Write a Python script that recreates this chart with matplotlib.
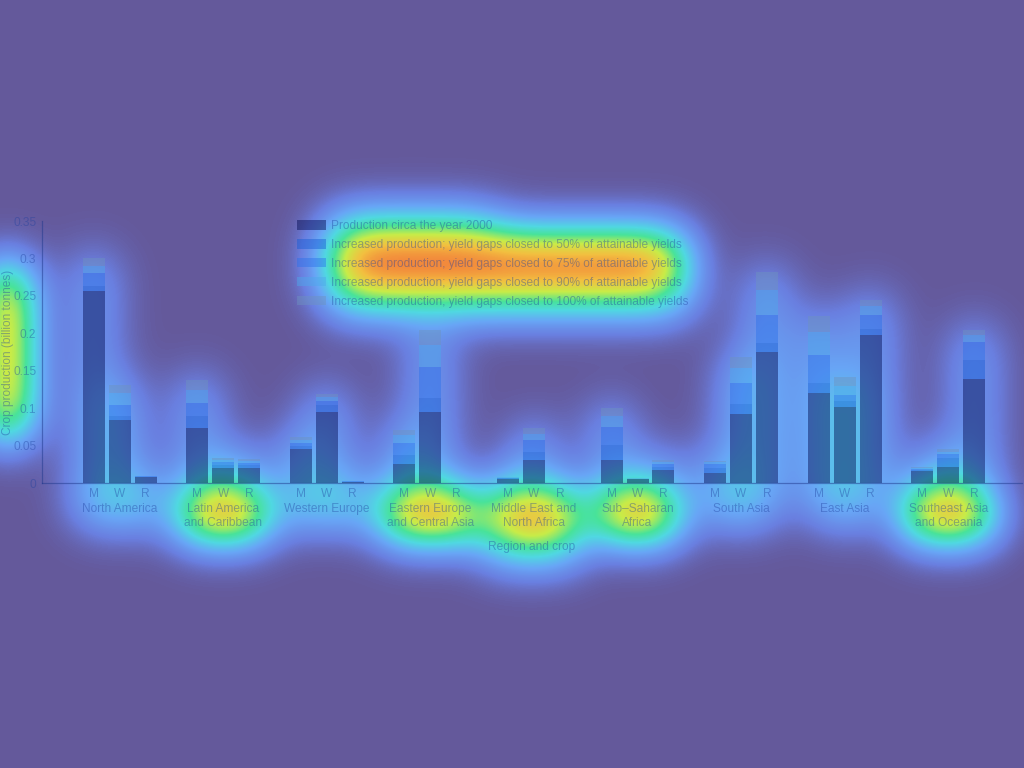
import numpy as np
import matplotlib
matplotlib.use("Agg")
import matplotlib.pyplot as plt
from matplotlib.colors import LinearSegmentedColormap

plt.rcParams['font.family'] = ['Liberation Sans', 'DejaVu Sans']

regions = ["North America", "Latin America\nand Caribbean", "Western Europe",
           "Eastern Europe\nand Central Asia", "Middle East and\nNorth Africa",
           "Sub\u2013Saharan\nAfrica", "South Asia", "East Asia",
           "Southeast Asia\nand Oceania"]
crops = ["M", "W", "R"]

series_names = ["Production circa the year 2000",
                "Increased production; yield gaps closed to 50% of attainable yields",
                "Increased production; yield gaps closed to 75% of attainable yields",
                "Increased production; yield gaps closed to 90% of attainable yields",
                "Increased production; yield gaps closed to 100% of attainable yields"]

# cumulative production (billion tonnes), bars in order region x (M, W, R)
prod_2000 = [0.257, 0.084, 0.008,  0.074, 0.020, 0.020,  0.046, 0.095, 0.002,
             0.026, 0.095, 0.000,  0.006, 0.031, 0.000,  0.031, 0.005, 0.017,
             0.014, 0.092, 0.175,  0.120, 0.102, 0.198,  0.016, 0.022, 0.139]
gap_50 = [0.263, 0.089, 0.008,  0.089, 0.024, 0.024,  0.050, 0.104, 0.002,
          0.037, 0.113, 0.000,  0.007, 0.042, 0.000,  0.051, 0.006, 0.021,
          0.020, 0.106, 0.187,  0.133, 0.110, 0.206,  0.018, 0.034, 0.164]
gap_75 = [0.280, 0.104, 0.009,  0.107, 0.028, 0.027,  0.054, 0.110, 0.003,
          0.053, 0.155, 0.000,  0.007, 0.057, 0.000,  0.075, 0.006, 0.025,
          0.025, 0.134, 0.224,  0.171, 0.118, 0.224,  0.019, 0.039, 0.189]
gap_90 = [0.290, 0.120, 0.009,  0.124, 0.031, 0.030,  0.058, 0.115, 0.003,
          0.064, 0.184, 0.000,  0.008, 0.066, 0.000,  0.089, 0.007, 0.028,
          0.028, 0.153, 0.258,  0.202, 0.130, 0.236,  0.020, 0.042, 0.198]
gap_100 = [0.300, 0.131, 0.009,  0.137, 0.034, 0.032,  0.061, 0.119, 0.003,
           0.071, 0.204, 0.000,  0.008, 0.073, 0.000,  0.100, 0.007, 0.031,
           0.030, 0.168, 0.282,  0.223, 0.141, 0.245,  0.021, 0.045, 0.204]

# attention weights for the overlay
legend_heat = [0.9, 1.4, 2.0, 1.4, 0.8]
region_heat = [0.9, 1.8, 0.9, 1.8, 1.6, 1.8, 0.8, 0.8, 1.8]
ylabel_heat = 3.3
xlabel_heat = 1.3
crop_heat = 1.3
bar_heat = 0.4

bar_colors = ['#00094E', '#155BD4', '#2B71EA', '#4DA9EA', '#6E93BE']
bar_alpha = 0.45
ink = (0.12, 0.25, 0.62, 0.40)
fs = 8.6

W, H = 1024, 768
fig = plt.figure(figsize=(W / 100, H / 100), dpi=100)
fig.patch.set_facecolor('#64599B')
ax = fig.add_axes([42 / W, 1 - 483 / H, 980 / W, 262 / H], zorder=1)
ax.patch.set_visible(False)

levels = [prod_2000, gap_50, gap_75, gap_90, gap_100]
n_reg = len(regions)
xpos = np.array([g * 4 + j for g in range(n_reg) for j in range(3)], dtype=float)
bars = []
prev = np.zeros(len(xpos))
for lev, name, col in zip(levels, series_names, bar_colors):
    lev = np.array(lev)
    b = ax.bar(xpos, lev - prev, bottom=prev, width=0.85, color=col,
               alpha=bar_alpha, linewidth=0, label=name)
    bars.append(b)
    prev = lev

ax.set_xlim(-2, 35.85)
ax.set_ylim(0, 0.35)
ax.set_yticks([0, 0.05, 0.1, 0.15, 0.2, 0.25, 0.3, 0.35])
ax.set_yticklabels(['0', '0.05', '0.1', '0.15', '0.2', '0.25', '0.3', '0.35'])
ax.set_xticks(xpos)
ax.set_xticklabels(crops * n_reg)
ax.tick_params(axis='both', length=0, labelsize=fs, labelcolor=ink)
ax.tick_params(axis='x', pad=3.5)
ax.tick_params(axis='y', pad=4)
for s in ['top', 'right']:
    ax.spines[s].set_visible(False)
for s in ['left', 'bottom']:
    ax.spines[s].set_color((0.12, 0.22, 0.55, 0.5))
    ax.spines[s].set_linewidth(0.9)

region_texts = []
for g, name in enumerate(regions):
    t = ax.text(g * 4 + 1, -20 / 262, name, transform=ax.get_xaxis_transform(),
                ha='center', va='top', fontsize=fs, color=ink, linespacing=1.2)
    region_texts.append(t)

ax.set_ylabel('Crop production (billion tonnes)', fontsize=fs, color=ink)
ax.yaxis.set_label_coords(-0.029, 0.5)
ax.set_xlabel('Region and crop', fontsize=fs, color=ink)
ax.xaxis.set_label_coords(0.5, -58 / 262)

leg = ax.legend(loc='upper left', bbox_to_anchor=(297 / W, 1 - 220 / H),
                bbox_transform=fig.transFigure, frameon=False, fontsize=fs,
                handlelength=2.4, handleheight=0.85, handletextpad=0.45,
                labelspacing=0.58, borderpad=0, borderaxespad=0)
for t in leg.get_texts():
    t.set_color(ink)

# build the attention overlay from the drawn elements
fig.canvas.draw()
rend = fig.canvas.get_renderer()
pad = 160
heat = np.zeros((H + 2 * pad, W + 2 * pad))


def add(artist, w):
    bb = artist.get_window_extent(rend)
    x0, x1 = int(bb.x0) + pad, int(np.ceil(bb.x1)) + pad
    y0, y1 = int(bb.y0) + pad, int(np.ceil(bb.y1)) + pad
    heat[y0:y1, x0:x1] += w


for t, w in zip(leg.get_texts(), legend_heat):
    add(t, w)
for t, w in zip(region_texts, region_heat):
    add(t, w)
for t in ax.get_xticklabels():
    add(t, crop_heat)
add(ax.yaxis.label, ylabel_heat)
add(ax.xaxis.label, xlabel_heat)
for b in bars:
    for p in b.patches:
        add(p, bar_heat)

sigma = 24
ky = np.fft.fftfreq(heat.shape[0])[:, None]
kx = np.fft.fftfreq(heat.shape[1])[None, :]
kern = np.exp(-2 * (np.pi * sigma) ** 2 * (kx ** 2 + ky ** 2))
heat = np.real(np.fft.ifft2(np.fft.fft2(heat) * kern))[pad:pad + H, pad:pad + W]
heat = np.clip(heat / heat.max(), 0, 1)

heat_cmap = LinearSegmentedColormap.from_list('attn', [
    (0.0, '#64599B'), (0.10, '#6A7FE0'), (0.24, '#68A6F6'), (0.40, '#50D8E2'),
    (0.55, '#48E39A'), (0.72, '#C8EC48'), (0.88, '#F2C040'), (1.0, '#F28A3C')])

bg = fig.add_axes([0, 0, 1, 1], zorder=0)
bg.imshow(heat, cmap=heat_cmap, vmin=0, vmax=1, origin='lower',
          extent=(0, 1, 0, 1), aspect='auto', interpolation='bilinear')
bg.axis('off')

fig.savefig('out.png', dpi=100)
